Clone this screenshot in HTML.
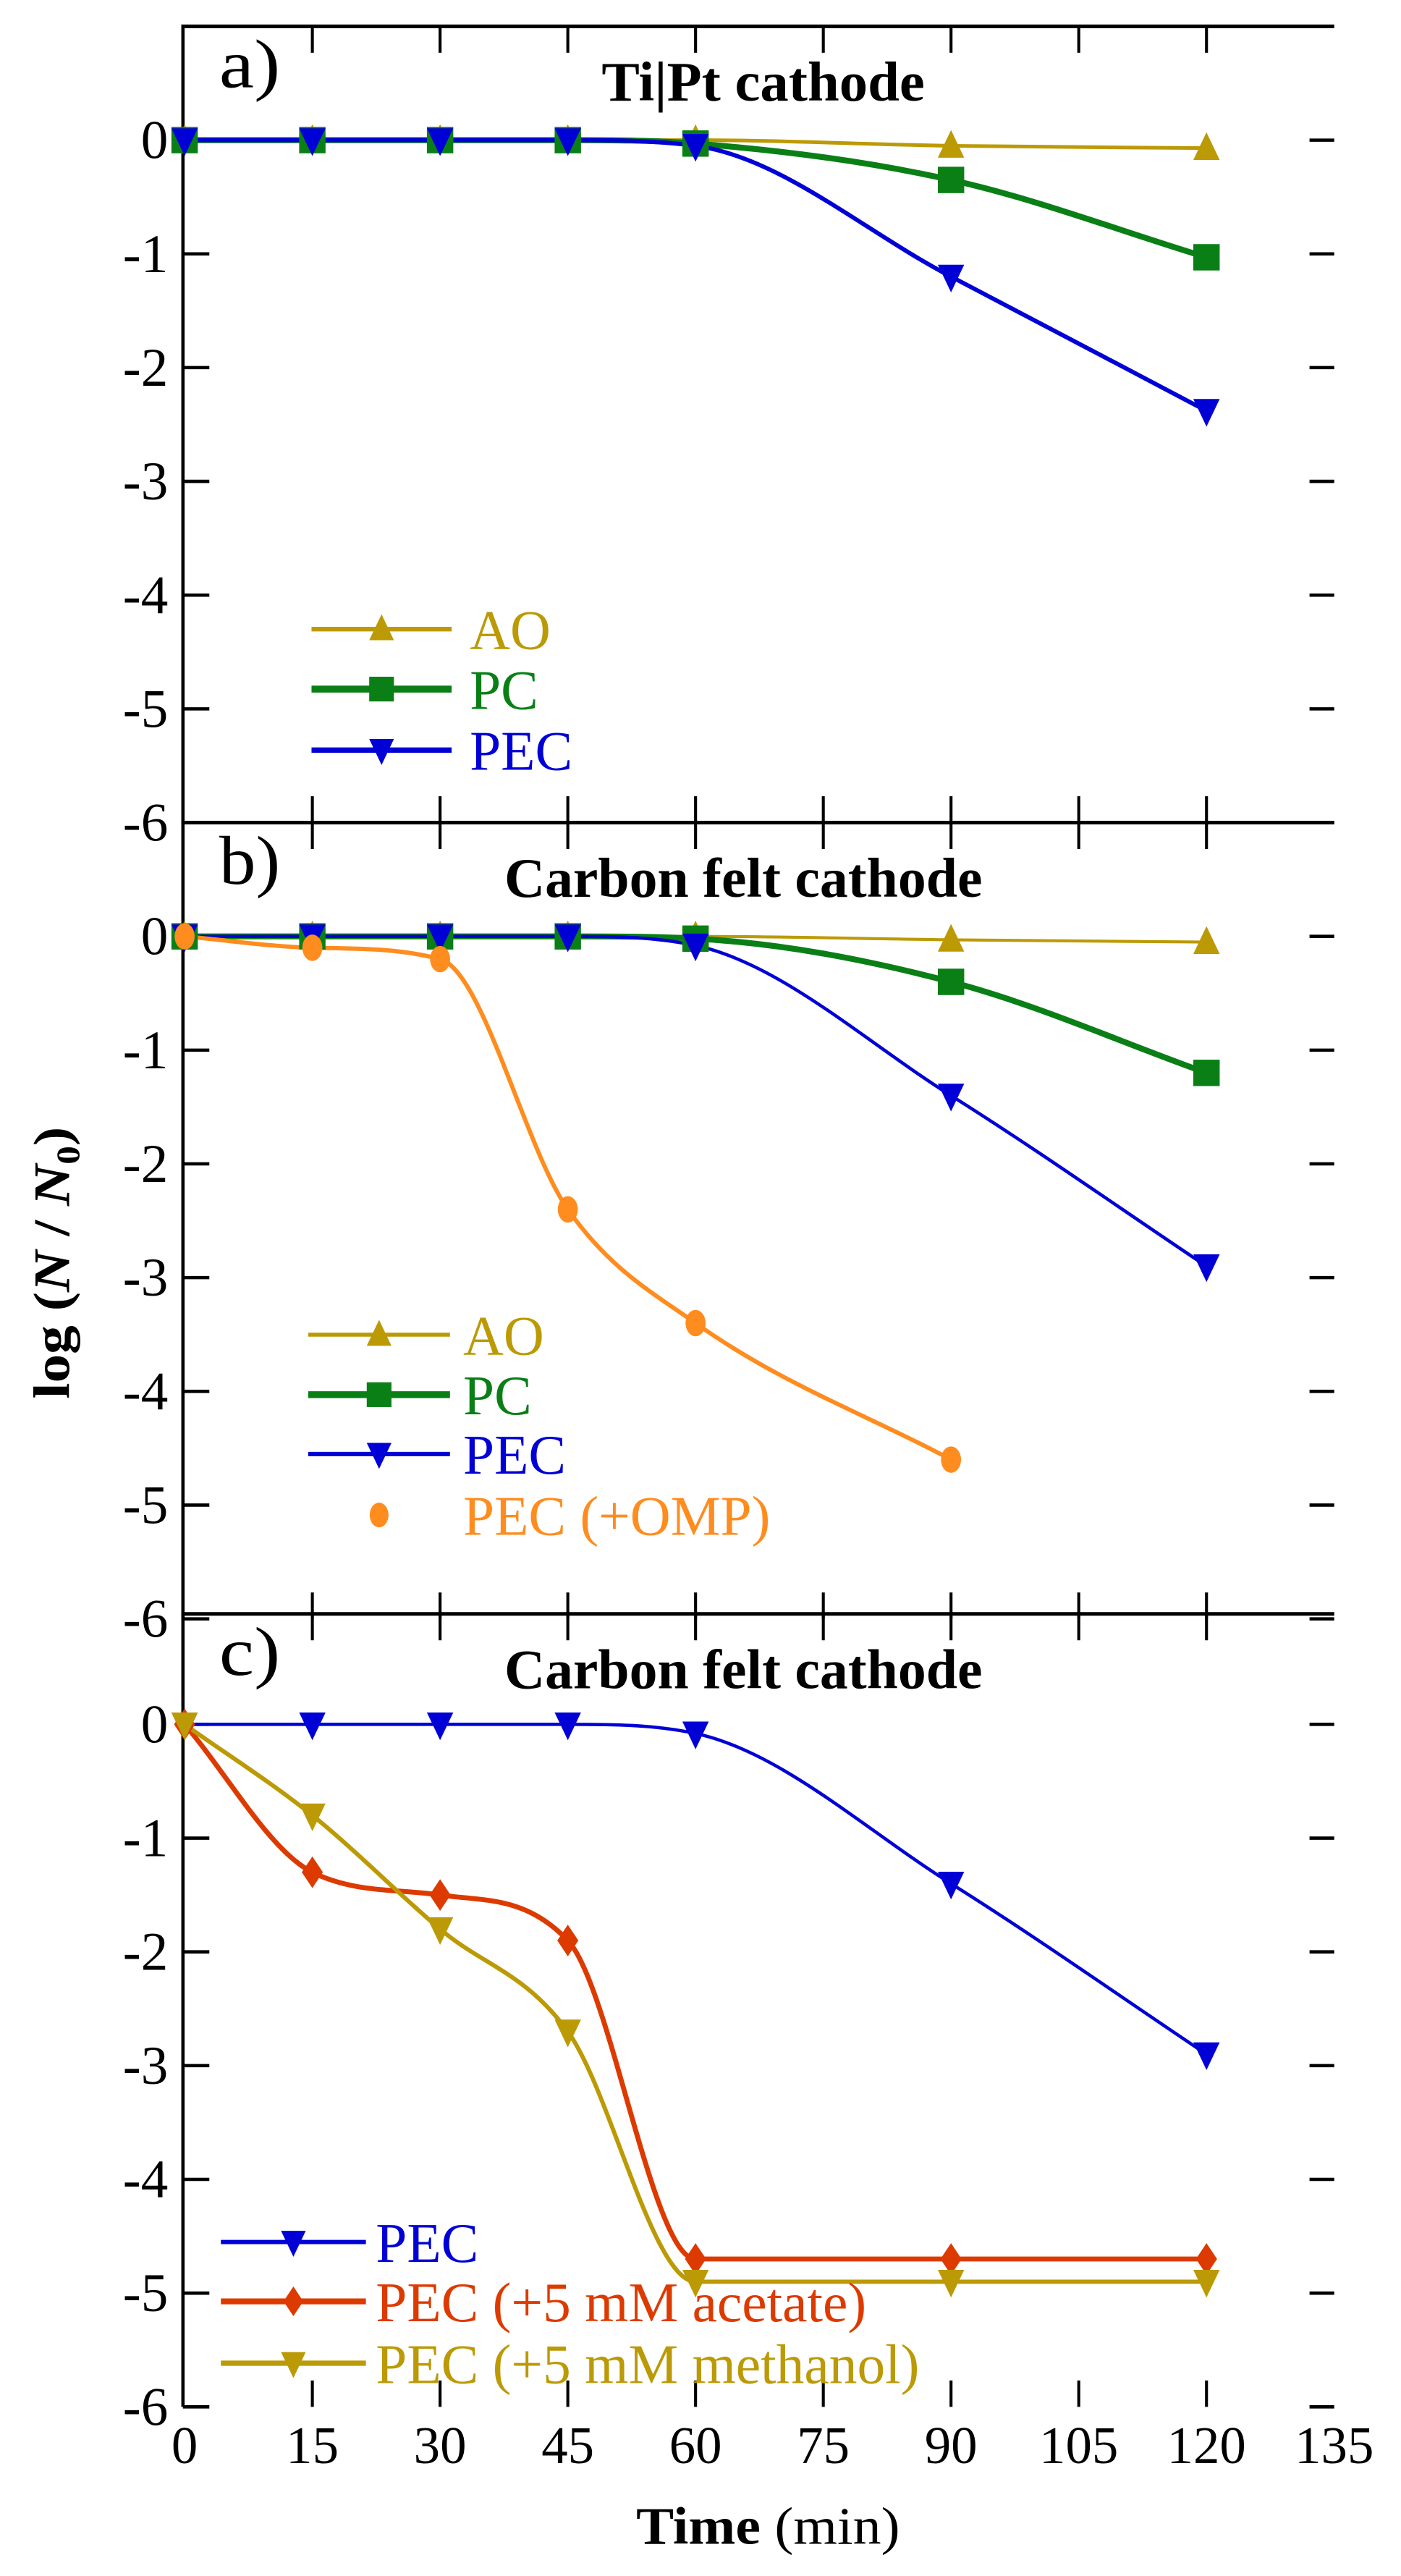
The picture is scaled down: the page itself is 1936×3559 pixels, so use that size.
<!DOCTYPE html>
<html><head><meta charset="utf-8">
<style>
html,body{margin:0;padding:0;background:#fff;}
svg{display:block;}
text{font-family:"Liberation Serif",serif;}
</style></head>
<body>
<svg id="chart" width="1936" height="3559" viewBox="0 0 850 1562.6" xmlns="http://www.w3.org/2000/svg">
<text transform="translate(42,766) rotate(-90)" text-anchor="middle" font-size="31" font-weight="bold" textLength="165" lengthAdjust="spacingAndGlyphs">log (<tspan font-style="italic">N</tspan> / <tspan font-style="italic">N</tspan><tspan font-size="20" dy="6">0</tspan><tspan dy="-6">)</tspan></text>
<text x="466" y="1543" text-anchor="middle" font-size="32" textLength="160" lengthAdjust="spacingAndGlyphs"><tspan font-weight="bold">Time</tspan> (min)</text>
<g id="plots"></g>
</svg>
<script>
// ---- data ----
const times = [0, 15, 30, 45, 60, 90, 120];
const timesOmp = [0, 15, 30, 45, 60, 90];
const xTicks = [0, 15, 30, 45, 60, 75, 90, 105, 120, 135];
const yTicks = [0, -1, -2, -3, -4, -5, -6];
const aAO = [0, 0, 0, 0, 0, -0.05, -0.07];
const aPC = [0, 0, 0, 0, -0.03, -0.35, -1.03];
const aPEC = [0, 0, 0, 0, -0.05, -1.2, -2.38];
const bAO = [0, 0, 0, 0, 0, -0.03, -0.05];
const bPC = [0, 0, 0, 0, -0.02, -0.4, -1.2];
const bPEC = [0, 0, 0, 0, -0.08, -1.4, -2.9];
const bOMP = [0, -0.1, -0.2, -2.4, -3.4, -4.6];
const cPEC = [0, 0, 0, 0, -0.08, -1.4, -2.9];
const cAcetate = [0, -1.3, -1.5, -1.9, -4.7, -4.7, -4.7];
const cMethanol = [0, -0.8, -1.8, -2.7, -4.9, -4.9, -4.9];

const NS = "http://www.w3.org/2000/svg";
const root = document.getElementById('plots');
const X0 = 112, PER15 = 77.5, XL = 111, XR = 809.5;
function xs(t){ return X0 + t / 15 * PER15; }
function mk(tag, attrs, parent){ const e = document.createElementNS(NS, tag); for (const k in attrs) e.setAttribute(k, attrs[k]); (parent||root).appendChild(e); return e; }

function monoPath(px, py){
  const n = px.length; if (n < 2) return '';
  const d = [], m = [];
  for (let i = 0; i < n-1; i++) d.push((py[i+1]-py[i])/(px[i+1]-px[i]));
  m[0] = d[0]; m[n-1] = d[n-2];
  for (let i = 1; i < n-1; i++){ m[i] = (d[i-1]*d[i] <= 0) ? 0 : (d[i-1]+d[i])/2; }
  for (let i = 0; i < n-1; i++){
    if (d[i] === 0){ m[i] = 0; m[i+1] = 0; continue; }
    const a = m[i]/d[i], b = m[i+1]/d[i], s = a*a+b*b;
    if (s > 9){ const t = 3/Math.sqrt(s); m[i] = t*a*d[i]; m[i+1] = t*b*d[i]; }
  }
  let p = 'M' + px[0] + ',' + py[0];
  for (let i = 0; i < n-1; i++){
    const h = (px[i+1]-px[i])/3;
    p += ' C' + (px[i]+h) + ',' + (py[i]+m[i]*h) + ' ' + (px[i+1]-h) + ',' + (py[i+1]-m[i+1]*h) + ' ' + px[i+1] + ',' + py[i+1];
  }
  return p;
}

function marker(shape, x, y, color, s, parent){
  let e;
  if (shape === 'up') e = mk('polygon', {points: `${x},${y-s*0.6} ${x-s/2},${y+s*0.45} ${x+s/2},${y+s*0.45}`, fill: color}, parent);
  else if (shape === 'down') e = mk('polygon', {points: `${x-s/2},${y-s*0.45} ${x+s/2},${y-s*0.45} ${x},${y+s*0.6}`, fill: color}, parent);
  else if (shape === 'square') e = mk('rect', {x: x-s/2, y: y-s/2, width: s, height: s, fill: color}, parent);
  else if (shape === 'diamond') e = mk('polygon', {points: `${x},${y-s*0.6} ${x+s*0.4},${y} ${x},${y+s*0.6} ${x-s*0.4},${y}`, fill: color}, parent);
  else e = mk('ellipse', {cx: x, cy: y, rx: s*0.38, ry: s*0.5, fill: color}, parent);
  return e;
}

const panels = [
  {id:'a', top:16, y0:85, label:'a)', title:'Ti|Pt cathode', titleW:196, titleX:463, bottomLine:true,
   series:[
     {name:'AO', t:times, v:aAO, c:'#bb9a05', w:2.2, m:'up'},
     {name:'PC', t:times, v:aPC, c:'#0a7f16', w:3.6, m:'square'},
     {name:'PEC', t:times, v:aPEC, c:'#0000d6', w:2.6, m:'down'}],
   legend:{x1:189, x2:274, tx:285, ys:[381.6, 418, 455]}},
  {id:'b', top:499, y0:568, label:'b)', title:'Carbon felt cathode', titleW:290, titleX:451, bottomLine:true,
   series:[
     {name:'AO', t:times, v:bAO, c:'#bb9a05', w:1.8, m:'up'},
     {name:'PC', t:times, v:bPC, c:'#0a7f16', w:3.6, m:'square'},
     {name:'PEC', t:times, v:bPEC, c:'#0000d6', w:2, m:'down'},
     {name:'PEC (+OMP)', t:timesOmp, v:bOMP, c:'#ff8c1e', w:2.6, m:'dot', noLegendLine:true}],
   legend:{x1:187, x2:273, tx:281, ys:[809.6, 846, 882, 919]}},
  {id:'c', top:979, y0:1046, label:'c)', title:'Carbon felt cathode', titleW:290, titleX:451, bottomLine:false,
   series:[
     {name:'PEC', t:times, v:cPEC, c:'#0000d6', w:2, m:'down'},
     {name:'PEC (+5 mM acetate)', t:times, v:cAcetate, c:'#dd3a00', w:3, m:'diamond'},
     {name:'PEC (+5 mM methanol)', t:times, v:cMethanol, c:'#bb9a05', w:2.6, m:'down'}],
   legend:{x1:134, x2:222, tx:228, ys:[1360, 1396, 1433.5]}}
];
const UNIT = 69;

panels.forEach(P => {
  const g = mk('g', {});
  
  
  const ys = v => P.y0 - v * UNIT;
  const bottom = ys(-6);
  // axes
  const la = mk('line', {x1:XL, y1:P.top, x2:XL, y2:bottom, stroke:'#000', 'stroke-width':2}, g);
  
  
  const ta = mk('line', {x1:XL-1, y1:P.top, x2:XR, y2:P.top, stroke:'#000', 'stroke-width':2.2}, g);
  
  
  // x ticks top & bottom
  xTicks.forEach(t => {
    if (t === 0 || t === 135) return;
    const x = xs(t);
    const t1 = mk('line', {x1:x, y1:P.top, x2:x, y2:P.top+16, stroke:'#000', 'stroke-width':1.8}, g);
    
    
    const t2 = mk('line', {x1:x, y1:bottom, x2:x, y2:bottom-16, stroke:'#000', 'stroke-width':1.8}, g);
    
    
  });
  // y ticks + labels
  yTicks.forEach(v => {
    const y = ys(v);
    const l1 = mk('line', {x1:XL, y1:y, x2:XL+16, y2:y, stroke:'#000', 'stroke-width':2}, g);
    
    
    const l2 = mk('line', {x1:XR-15, y1:y, x2:XR, y2:y, stroke:'#000', 'stroke-width':2}, g);
    
    
    const tx = mk('text', {x:102, y:y+11, 'text-anchor':'end', 'font-size':33}, g);
    
    
    tx.textContent = String(v);
  });
  // label and title
  const lb = mk('text', {x:133, y:P.top+37, 'font-size':42, 'font-family':'Liberation Sans, sans-serif', textLength:37, lengthAdjust:'spacingAndGlyphs'}, g);
  
  
  lb.textContent = P.label;
  const tt = mk('text', {x:P.titleX, y:P.top+45, 'text-anchor':'middle', 'font-size':34, 'font-weight':'bold', textLength:P.titleW, lengthAdjust:'spacingAndGlyphs'}, g);
  
  
  tt.textContent = P.title;
  // series
  P.series.forEach((S, si) => {
    const px = S.t.map(xs), py = S.v.map(ys);
    const path = mk('path', {d: monoPath(px, py), fill:'none', stroke:S.c, 'stroke-width':S.w, 'stroke-linejoin':'round'}, g);
    
    
  });
  P.series.forEach(S => {
    S.t.forEach((t, i) => {
      const m = marker(S.m, xs(t), ys(S.v[i]), S.c, 16, g);
      
      
    });
  });
  // legend
  P.series.forEach((S, i) => {
    const y = P.legend.ys[i];
    if (!S.noLegendLine){
      const ll = mk('line', {x1:P.legend.x1, y1:y, x2:P.legend.x2, y2:y, stroke:S.c, 'stroke-width':S.w+0.6}, g);
      
      
    }
    const lm = marker(S.m, (P.legend.x1+P.legend.x2)/2, y, S.c, 15, g);
    
    
    const lt = mk('text', {x:P.legend.tx, y:y+12, 'font-size':34, fill:S.c}, g);
    
    
    lt.textContent = S.name;
  });
});
// x tick labels
xTicks.forEach(t => {
  const e = mk('text', {x:xs(t), y:1494, 'text-anchor':'middle', 'font-size':32});
  
  
  e.textContent = String(t);
});
</script>
</body></html>
